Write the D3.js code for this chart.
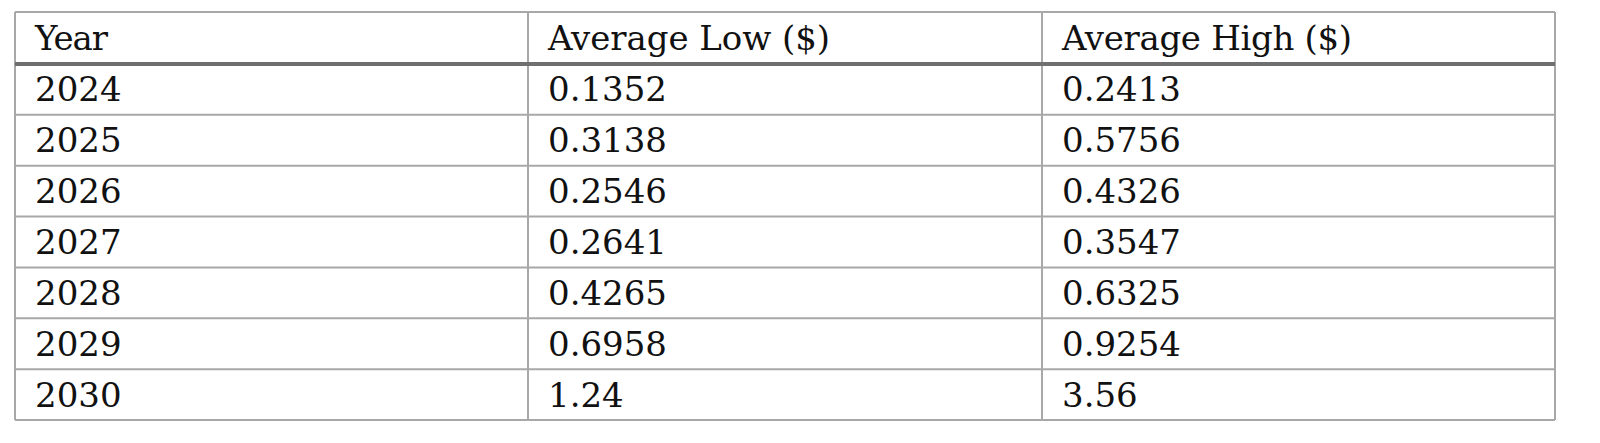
<!DOCTYPE html>
<html><head><meta charset="utf-8">
<script src="https://cdn.jsdelivr.net/npm/d3@7"></script>
<style>body{margin:0;background:#fff}</style></head>
<body><svg id="t" width="1600" height="443"></svg>
<script>
var columns = ["Year", "Average Low ($)", "Average High ($)"];
var years = ["2024", "2025", "2026", "2027", "2028", "2029", "2030"];
var avgLow = ["0.1352", "0.3138", "0.2546", "0.2641", "0.4265", "0.6958", "1.24"];
var avgHigh = ["0.2413", "0.5756", "0.4326", "0.3547", "0.6325", "0.9254", "3.56"];

var rows = years.map(function(y, i) { return [y, avgLow[i], avgHigh[i]]; });
var svg = d3.select("#t");
var left = 15, right = 1555, tableTop = 12, headBottom = 64, bottom = 420;
var colEdges = [left, 528, 1042, right];

var y = d3.scaleBand().domain(d3.range(rows.length)).range([headBottom, bottom]);
var font = "'DejaVu Serif', serif";
var fs = 34;

// grid lines
var g = svg.append("g").attr("stroke", "#a8a8a8").attr("stroke-width", 2);
y.domain().slice(1).forEach(function(i) {
	g.append("line").attr("x1", left).attr("x2", right).attr("y1", y(i)).attr("y2", y(i));
});
colEdges.forEach(function(x) {
	g.append("line").attr("x1", x).attr("x2", x).attr("y1", tableTop).attr("y2", bottom);
});
g.append("line").attr("x1", left).attr("x2", right).attr("y1", tableTop).attr("y2", tableTop);
g.append("line").attr("x1", left).attr("x2", right).attr("y1", bottom).attr("y2", bottom);
svg.append("line").attr("x1", left).attr("x2", right).attr("y1", headBottom).attr("y2", headBottom)
	.attr("stroke", "#6f6f6f").attr("stroke-width", 4);

// header
svg.selectAll("text.h").data(columns).enter().append("text")
	.attr("x", function(d, i) { return colEdges[i] + 20; })
	.attr("y", (tableTop + headBottom) / 2 + 12)
	.attr("font-family", font).attr("font-size", fs).attr("fill", "#111")
	.attr("textLength", function(d, i) { return [73, 282, 290][i]; })
	.text(function(d) { return d; });

// body
rows.forEach(function(r, i) {
	svg.selectAll(null).data(r).enter().append("text")
		.attr("x", function(d, j) { return colEdges[j] + 20; })
		.attr("y", y(i) + y.bandwidth() / 2 + 12)
		.attr("font-family", font).attr("font-size", fs).attr("fill", "#111")
		.text(function(d) { return d; });
});
</script></body></html>
